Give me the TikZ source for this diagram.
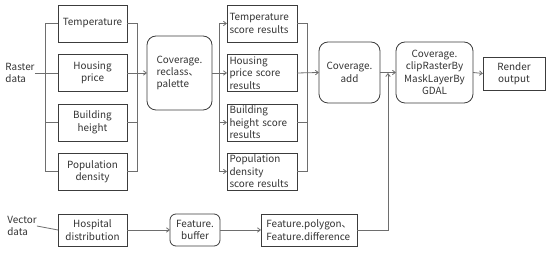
\documentclass[tikz,border=0pt]{standalone}
\usepackage{fontspec}
\setmainfont{Noto Sans CJK SC}
\usepackage{xcolor}
\usetikzlibrary{arrows.meta,positioning,calc}
\definecolor{figline}{HTML}{3C3C3C}
\definecolor{figlink}{HTML}{6E6E6E}
\definecolor{figink}{HTML}{333333}

\begin{document}
\begin{tikzpicture}[x=1pt, y=1pt, font=\fontsize{9.9}{12.4}\selectfont, text=figink,
  cell/.style={draw=figline, line width=0.8pt, align=center, inner sep=2pt, outer sep=0pt},
  rcell/.style={cell, rounded corners=9pt},
  lcell/.style={cell, align=left},
  lbl/.style={align=left, inner sep=0pt},
  link/.style={draw=figlink, line width=0.8pt},
  arr/.style={link, -{Straight Barb[length=3pt, width=4.5pt]}}]
\useasboundingbox (0,0) rectangle (550,-253);
% raster inputs
\node[cell, minimum width=69, minimum height=37] (tmp) at (92.5,-23.5) {Temperature};
\node[cell, minimum width=69, minimum height=37] (hou) at (92.5,-73) {Housing\\price};
\node[cell, minimum width=69, minimum height=37] (bld) at (92.5,-122.5) {Building\\height};
\node[cell, minimum width=69, minimum height=37] (pop) at (92.5,-171.5) {Population\\density};
\node[lbl] (raster) at (20,-73) {Raster\\data};
% reclass
\node[rcell, lcell, minimum width=65, minimum height=74] (recl) at (179.5,-73) {Coverage.\\reclass、\\palette};
% score results
\node[lcell, minimum width=70, minimum height=37, text width=65, inner sep=1pt] (stmp) at (262,-23.5) {Temperature\\score results};
\node[lcell, minimum width=70, minimum height=37, text width=65, inner sep=1pt] (shou) at (262,-73) {Housing\\price score\\results};
\node[lcell, minimum width=70, minimum height=37, text width=65, inner sep=1pt] (sbld) at (262,-122.5) {Building\\height score\\results};
\node[lcell, minimum width=70, minimum height=37, text width=65, inner sep=1pt] (spop) at (262,-171.5) {Population\\density\\score results};
% overlay and output
\node[rcell, minimum width=61, minimum height=61] (add) at (349.5,-72.5) {Coverage.\\add};
\node[rcell, minimum width=77, minimum height=61] (clip) at (434.5,-72.5) {Coverage.\\clipRasterBy\\MaskLayerBy\\GDAL};
\node[cell, minimum width=62, minimum height=33] (render) at (514,-73.5) {Render\\output};
% vector branch
\node[lbl] (vector) at (22,-226) {Vector\\data};
\node[cell, minimum width=69, minimum height=32] (hosp) at (92.5,-230) {Hospital\\distribution};
\node[rcell, rounded corners=6pt, minimum width=50, minimum height=32] (buf) at (195,-230) {Feature.\\buffer};
\node[lcell, minimum width=96, minimum height=32] (poly) at (309,-230) {Feature.polygon、\\Feature.difference};
\coordinate (join) at (388,-73);

% connectors
\draw[link] (raster.east) -- (hou.west);
\draw[link] (tmp.west) -- ++(-13,0) |- (pop.west);
\draw[link] (bld.west) -- ++(-13,0);
\draw[link] (tmp.east) -- ++(10,0) |- (pop.east);
\draw[link] (bld.east) -- ++(10,0);
\draw[arr] (hou.east) -- (recl.west);
\draw[link] (recl.east) -- ++(7,0) coordinate (rsplit);
\draw[link] (rsplit |- stmp.west) -- (rsplit |- spop.west);
\foreach \s in {stmp,shou,sbld,spop}
  \draw[arr] (rsplit |- \s.west) -- (\s.west);
\draw[link] (stmp.east) -- ++(10,0) |- (spop.east);
\draw[link] (sbld.east) -- ++(10,0);
\draw[arr] (shou.east) -- (add.west);
\draw[arr] (add.east) -- (clip.west);
\draw[arr] (clip.east) -- (render.west);
\draw[link] (vector.east) -- (hosp.west);
\draw[arr] (hosp.east) -- (buf.west);
\draw[arr] (buf.east) -- (poly.west);
\draw[arr] (poly.east) -| (join);
\end{tikzpicture}
\end{document}
